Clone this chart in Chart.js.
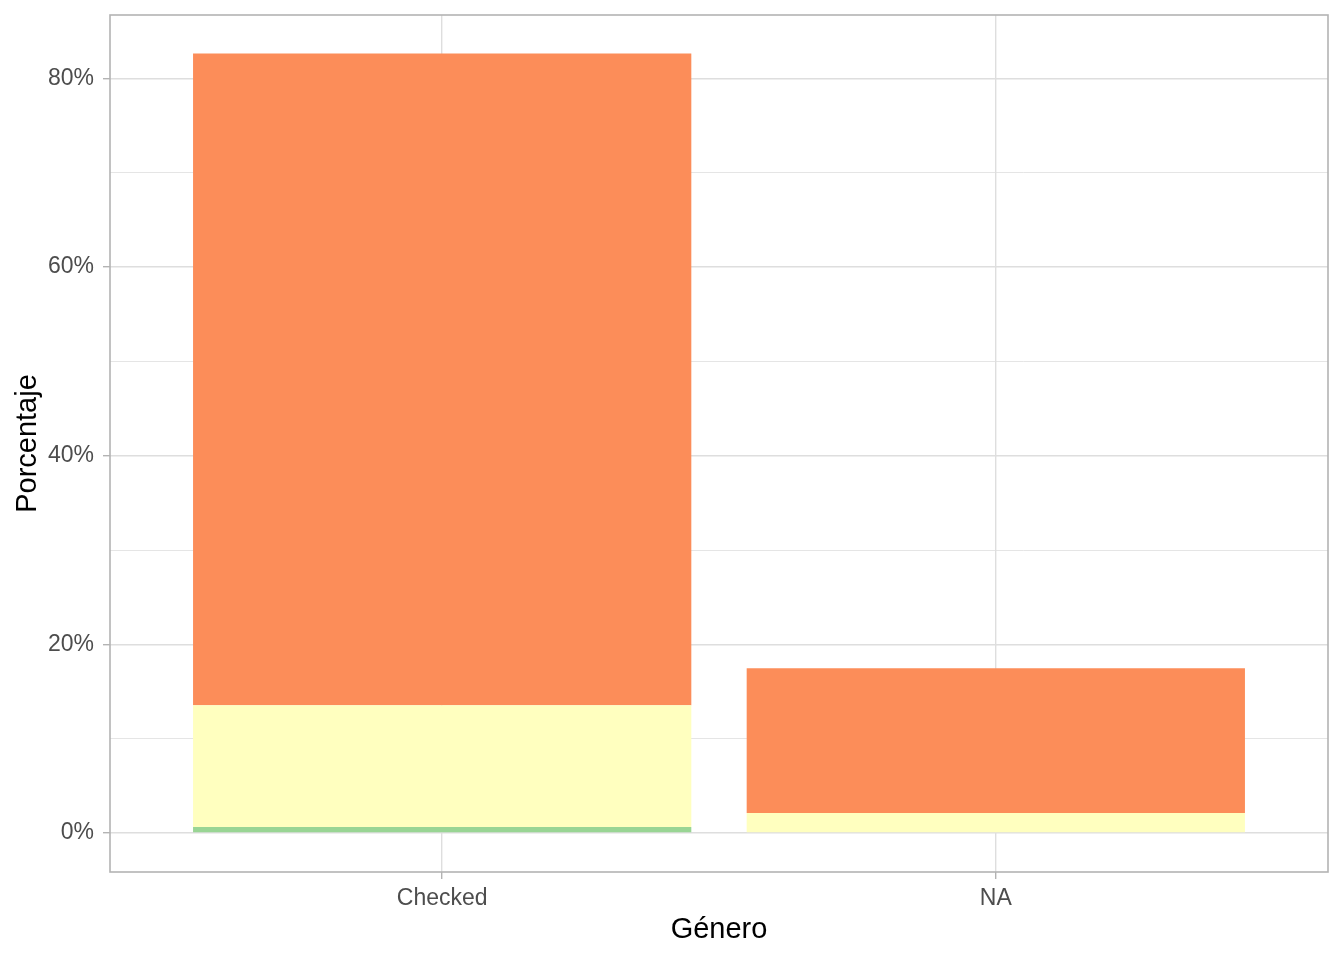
<!DOCTYPE html>
<html>
<head>
<meta charset="utf-8">
<script src="https://cdn.jsdelivr.net/npm/chart.js@4.4.0/dist/chart.umd.min.js"></script>
<style>
    html, body { margin: 0; padding: 0; background: #fff; }
    #wrap { width: 1344px; height: 960px; }
</style>
</head>
<body>
<div id="wrap"><canvas id="genero-chart"></canvas></div>
<script>
// Categories on x axis
const categories = ["Checked", "NA"];

// Stacked series (bottom to top), values in percent
const seriesNames = ["Nivel 3", "Nivel 2", "Nivel 1"];
const valuesGreen = [0.63, 0];
const valuesYellow = [12.91, 2.12];
const valuesOrange = [69.11, 15.34];

// y axis ticks (labelled every 20)
const yTicks = [0, 10, 20, 30, 40, 50, 60, 70, 80];

const tickFont = { family: "'Liberation Sans', Arial, sans-serif", size: 23 };
const titleFont = { family: "'Liberation Sans', Arial, sans-serif", size: 29 };

function toPoints(values) {
    return values.map((v, i) => ({ x: i + 1, y: v }));
}

// panel border on all four sides, like ggplot theme_light
const panelBorder = {
    id: 'panelBorder',
    afterDraw(chart) {
        const { ctx, chartArea } = chart;
        ctx.save();
        ctx.strokeStyle = '#B3B3B3';
        ctx.lineWidth = 1.6;
        ctx.strokeRect(chartArea.left, chartArea.top, chartArea.right - chartArea.left, chartArea.bottom - chartArea.top);
        ctx.restore();
    }
};

function noEdgePadding(scale) {
    scale.paddingTop = 0;
    scale.paddingBottom = 0;
    scale.paddingLeft = 0;
    scale.paddingRight = 0;
}

const ctx = document.getElementById('genero-chart').getContext('2d');

new Chart(ctx, {
    type: 'bar',
    data: {
        datasets: [{
            label: seriesNames[0],
            data: toPoints(valuesGreen),
            backgroundColor: '#99D594',
        }, {
            label: seriesNames[1],
            data: toPoints(valuesYellow),
            backgroundColor: '#FFFFBF',
        }, {
            label: seriesNames[2],
            data: toPoints(valuesOrange),
            backgroundColor: '#FC8D59',
        }]
    },
    options: {
        responsive: true,
        maintainAspectRatio: false,
        animation: false,
        events: [],
        layout: { padding: { top: 15, right: 16, left: 0, bottom: 0 } },
        datasets: {
            bar: {
                categoryPercentage: 0.9,
                barPercentage: 1,
                borderWidth: 0,
            }
        },
        scales: {
            x: {
                type: 'linear',
                stacked: true,
                min: 0.4,
                max: 2.6,
                offset: false,
                afterBuildTicks: (scale) => {
                    scale.ticks = categories.map((c, i) => ({ value: i + 1 }));
                },
                afterFit: (scale) => { scale.height = 88; noEdgePadding(scale); },
                ticks: {
                    autoSkip: false,
                    maxRotation: 0,
                    padding: 6,
                    color: '#4D4D4D',
                    font: tickFont,
                    callback: (value) => categories[value - 1] || ''
                },
                grid: {
                    offset: false,
                    color: '#DEDEDE',
                    lineWidth: 1.4,
                    tickLength: 7,
                    tickColor: '#B3B3B3',
                    tickWidth: 1.4
                },
                border: { display: false },
                title: {
                    display: true,
                    text: 'Género',
                    color: '#000',
                    font: titleFont,
                    padding: { top: 0, bottom: 13 }
                }
            },
            y: {
                stacked: true,
                min: -4.13,
                max: 86.73,
                afterBuildTicks: (scale) => {
                    scale.ticks = yTicks.map(v => ({ value: v }));
                },
                afterFit: (scale) => { scale.width = 110; noEdgePadding(scale); },
                ticks: {
                    autoSkip: false,
                    padding: 9,
                    color: '#4D4D4D',
                    font: tickFont,
                    callback: (value) => value % 20 === 0 ? value + '%' : ''
                },
                grid: {
                    color: '#DEDEDE',
                    lineWidth: (c) => c.tick && c.tick.value % 20 === 0 ? 1.4 : 0.8,
                    tickLength: 7,
                    tickColor: (c) => c.tick && c.tick.value % 20 === 0 ? '#B3B3B3' : 'rgba(0,0,0,0)',
                    tickWidth: 1.4
                },
                border: { display: false },
                title: {
                    display: true,
                    text: 'Porcentaje',
                    color: '#000',
                    font: titleFont,
                    padding: { top: 11, bottom: 0 }
                }
            }
        },
        plugins: {
            legend: { display: false },
            tooltip: { enabled: false }
        }
    },
    plugins: [panelBorder]
});
</script>
</body>
</html>
